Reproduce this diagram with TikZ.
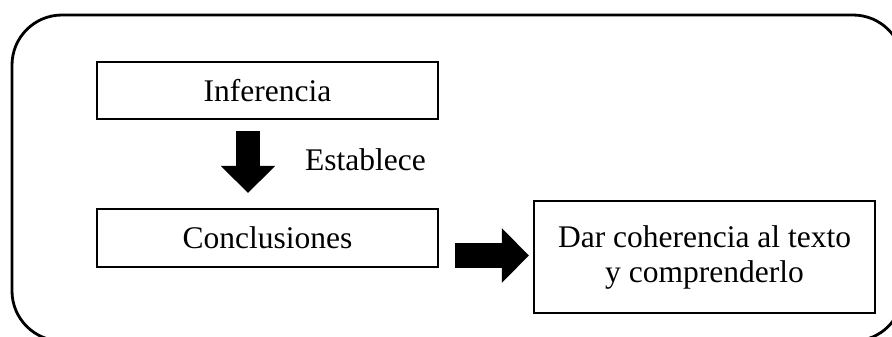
\documentclass[tikz,border=0pt]{standalone}
\usepackage{fontspec}
\setmainfont{Liberation Serif}
\usepackage{tikz}
\usetikzlibrary{calc,arrows.meta}

\begin{document}
\begin{tikzpicture}[x=1pt,y=-1pt,
    box/.style={
      draw=black,
      line width=2.2pt,
      rectangle,
      minimum width=341pt,
      inner sep=0pt
    }]
\tikzset{label text/.style = {font=\fontsize{31.5}{35}\selectfont}}
\tikzset{fat/.style = {line width=24.5pt,-{Triangle[length=27pt,width=53pt]}}}
\useasboundingbox (0,0) rectangle (892,337);
%outer frame
\draw[line width=2.8pt,rounded corners=50pt] (12,15) rectangle (903,341);
\node[box,label text,minimum height=57pt] (inf) at (267.5,90.5) {Inferencia};
\node[box,label text,minimum height=58pt] (concl) at (267.5,238) {Conclusiones};
\node[box,label text,minimum height=112pt,align=center] (dar) at (704.5,257) {Dar coherencia al texto\\y comprenderlo};
\node[label text,anchor=base west,inner sep=0pt] (est) at (305,170) {Establece};
\draw[fat] ($(inf.south)+(-19.5,11)$) -- ($(concl.north)+(-19.5,-15)$);
\draw[fat] ($(concl.east)+(16,17.5)$) -- ($(dar.west)+(-4,-1.5)$);
\end{tikzpicture}
\end{document}
